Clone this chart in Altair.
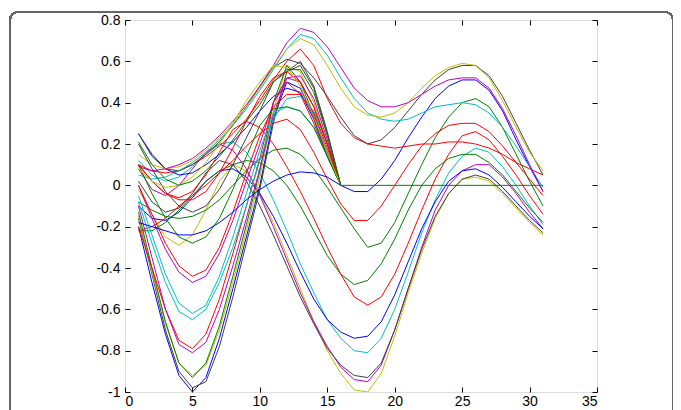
import altair as alt
import pandas as pd

X = list(range(1, 32))

# MATLAB classic colour cycle
B, G, R, C, M, Y, K = "#0000ff", "#008000", "#ff0000", "#00bfbf", "#bf00bf", "#bfbf00", "#404040"

# full-length curves (x = 1..31)
F1 = [-0.02, -0.14, -0.25, -0.29, -0.24, -0.12, 0.02, 0.10, 0.07, -0.04, -0.18, -0.34, -0.50, -0.66, -0.80, -0.91, -0.99, -1.00, -0.91, -0.73, -0.52, -0.33, -0.16, -0.04, 0.03, 0.04, 0.02, -0.04, -0.11, -0.18, -0.24]
F2 = [0.08, -0.02, -0.05, 0.00, 0.08, 0.16, 0.20, 0.17, 0.08, -0.05, -0.20, -0.36, -0.52, -0.66, -0.78, -0.88, -0.94, -0.95, -0.87, -0.70, -0.50, -0.30, -0.12, 0.00, 0.07, 0.10, 0.10, 0.04, -0.04, -0.13, -0.21]
F3 = [0.02, -0.08, -0.13, -0.11, -0.04, 0.06, 0.12, 0.10, 0.02, -0.10, -0.24, -0.39, -0.54, -0.67, -0.79, -0.87, -0.92, -0.93, -0.86, -0.70, -0.50, -0.31, -0.15, -0.04, 0.03, 0.05, 0.03, -0.03, -0.10, -0.17, -0.23]
F4 = [0.12, 0.05, 0.02, 0.04, 0.09, 0.15, 0.20, 0.21, 0.16, 0.06, -0.07, -0.22, -0.38, -0.52, -0.65, -0.74, -0.80, -0.81, -0.74, -0.60, -0.42, -0.23, -0.07, 0.06, 0.14, 0.18, 0.16, 0.09, 0.00, -0.10, -0.19]
F5 = [-0.10, -0.16, -0.17, -0.13, -0.06, 0.02, 0.07, 0.08, 0.04, -0.04, -0.15, -0.28, -0.42, -0.55, -0.65, -0.71, -0.74, -0.73, -0.66, -0.53, -0.37, -0.21, -0.08, 0.02, 0.07, 0.08, 0.05, -0.01, -0.08, -0.15, -0.21]
F6 = [0.10, 0.02, -0.04, -0.06, -0.03, 0.05, 0.16, 0.27, 0.31, 0.28, 0.20, 0.09, -0.03, -0.16, -0.30, -0.43, -0.54, -0.58, -0.54, -0.43, -0.28, -0.12, 0.03, 0.15, 0.24, 0.26, 0.22, 0.14, 0.05, -0.05, -0.14]
F7 = [-0.22, -0.22, -0.18, -0.12, -0.05, 0.02, 0.07, 0.10, 0.12, 0.11, 0.07, 0.00, -0.10, -0.22, -0.34, -0.43, -0.48, -0.46, -0.38, -0.26, -0.12, 0.00, 0.08, 0.13, 0.15, 0.15, 0.11, 0.05, -0.03, -0.11, -0.18]
F8 = [-0.08, -0.12, -0.15, -0.16, -0.15, -0.12, -0.07, 0.00, 0.07, 0.13, 0.17, 0.18, 0.15, 0.08, -0.01, -0.11, -0.21, -0.30, -0.28, -0.18, -0.04, 0.10, 0.23, 0.33, 0.40, 0.42, 0.38, 0.28, 0.15, 0.02, -0.10]
F9 = [-0.22, -0.20, -0.16, -0.10, -0.05, 0.00, 0.06, 0.12, 0.19, 0.25, 0.30, 0.32, 0.27, 0.16, 0.03, -0.09, -0.17, -0.17, -0.10, 0.00, 0.10, 0.19, 0.25, 0.29, 0.30, 0.30, 0.26, 0.19, 0.11, 0.03, -0.05]
F10 = [0.25, 0.15, 0.08, 0.05, 0.06, 0.10, 0.15, 0.21, 0.28, 0.36, 0.43, 0.47, 0.45, 0.32, 0.14, 0.00, -0.03, -0.03, 0.03, 0.12, 0.23, 0.33, 0.42, 0.48, 0.51, 0.51, 0.46, 0.36, 0.22, 0.09, -0.03]
F11 = [0.10, 0.07, 0.06, 0.07, 0.10, 0.14, 0.19, 0.25, 0.32, 0.41, 0.51, 0.60, 0.66, 0.58, 0.42, 0.30, 0.23, 0.20, 0.19, 0.18, 0.19, 0.20, 0.20, 0.21, 0.21, 0.20, 0.18, 0.15, 0.11, 0.08, 0.05]
F12 = [0.25, 0.14, 0.08, 0.07, 0.10, 0.15, 0.21, 0.29, 0.38, 0.48, 0.57, 0.61, 0.59, 0.52, 0.43, 0.33, 0.24, 0.20, 0.22, 0.28, 0.36, 0.44, 0.51, 0.56, 0.58, 0.58, 0.53, 0.43, 0.30, 0.17, 0.05]
F13 = [0.05, 0.03, 0.04, 0.07, 0.11, 0.16, 0.22, 0.29, 0.37, 0.46, 0.56, 0.66, 0.73, 0.71, 0.63, 0.52, 0.42, 0.35, 0.32, 0.31, 0.32, 0.35, 0.38, 0.39, 0.40, 0.39, 0.35, 0.28, 0.19, 0.09, -0.01]
F14 = [0.15, 0.10, 0.08, 0.09, 0.12, 0.17, 0.23, 0.30, 0.38, 0.47, 0.57, 0.66, 0.71, 0.68, 0.58, 0.47, 0.38, 0.34, 0.33, 0.35, 0.40, 0.47, 0.53, 0.57, 0.59, 0.58, 0.52, 0.41, 0.28, 0.16, 0.07]
F15 = [0.09, 0.07, 0.08, 0.10, 0.13, 0.18, 0.24, 0.31, 0.39, 0.48, 0.58, 0.69, 0.76, 0.74, 0.67, 0.57, 0.47, 0.41, 0.38, 0.38, 0.40, 0.44, 0.48, 0.51, 0.52, 0.52, 0.47, 0.37, 0.24, 0.10, -0.03]

# curves that are non-zero on x = 1..15 only (x = 16..31 are zero)
ZERO_TAIL = [0.0, 0.0, 0.0, 0.0, 0.0, 0.0, 0.0, 0.0, 0.0, 0.0, 0.0, 0.0, 0.0, 0.0, 0.0]
L1 = [-0.20, -0.47, -0.72, -0.92, -1.00, -0.93, -0.74, -0.50, -0.25, 0.00, 0.32, 0.50, 0.47, 0.33, 0.16, 0.0]
L2 = [-0.16, -0.43, -0.70, -0.90, -0.98, -0.95, -0.78, -0.54, -0.28, -0.02, 0.30, 0.55, 0.60, 0.48, 0.26, 0.0]
L3 = [-0.15, -0.42, -0.67, -0.86, -0.92, -0.87, -0.70, -0.47, -0.22, 0.04, 0.36, 0.58, 0.55, 0.40, 0.20, 0.0]
L4 = [-0.13, -0.40, -0.66, -0.86, -0.93, -0.86, -0.68, -0.44, -0.19, 0.07, 0.40, 0.58, 0.50, 0.34, 0.16, 0.0]
L5 = [-0.20, -0.40, -0.60, -0.75, -0.79, -0.72, -0.55, -0.33, -0.10, 0.13, 0.40, 0.50, 0.44, 0.30, 0.14, 0.0]
L6 = [-0.10, -0.35, -0.60, -0.77, -0.81, -0.76, -0.60, -0.39, -0.16, 0.08, 0.34, 0.52, 0.53, 0.42, 0.22, 0.0]
L7 = [-0.08, -0.28, -0.47, -0.61, -0.65, -0.60, -0.47, -0.30, -0.10, 0.12, 0.32, 0.42, 0.43, 0.36, 0.20, 0.0]
L8 = [-0.05, -0.24, -0.43, -0.57, -0.62, -0.58, -0.44, -0.25, -0.04, 0.17, 0.35, 0.38, 0.36, 0.28, 0.14, 0.0]
L9 = [0.00, -0.16, -0.31, -0.42, -0.47, -0.44, -0.33, -0.17, 0.02, 0.20, 0.40, 0.52, 0.50, 0.38, 0.20, 0.0]
L10 = [0.00, -0.14, -0.28, -0.39, -0.44, -0.41, -0.30, -0.13, 0.06, 0.24, 0.38, 0.44, 0.44, 0.35, 0.18, 0.0]
L11 = [0.10, -0.04, -0.16, -0.25, -0.28, -0.25, -0.16, -0.02, 0.14, 0.29, 0.37, 0.38, 0.36, 0.28, 0.14, 0.0]
L12 = [-0.18, -0.20, -0.22, -0.24, -0.24, -0.22, -0.18, -0.13, -0.07, -0.02, 0.02, 0.05, 0.065, 0.06, 0.04, 0.0]
L13 = [0.20, 0.08, -0.03, -0.10, -0.13, -0.10, -0.02, 0.10, 0.23, 0.36, 0.50, 0.55, 0.58, 0.47, 0.25, 0.0]
L14 = [0.10, 0.02, -0.04, -0.07, -0.07, -0.03, 0.06, 0.18, 0.31, 0.43, 0.52, 0.55, 0.50, 0.38, 0.20, 0.0]
L15 = [0.08, 0.02, -0.01, 0.00, 0.04, 0.11, 0.20, 0.30, 0.41, 0.50, 0.58, 0.57, 0.48, 0.33, 0.16, 0.0]
L16 = [0.21, 0.10, 0.03, 0.00, 0.02, 0.07, 0.14, 0.22, 0.31, 0.39, 0.50, 0.56, 0.56, 0.45, 0.24, 0.0]

FULL = [(F1, Y), (F2, M), (F3, K), (F4, C), (F5, B), (F6, R), (F7, G), (F8, G),
        (F9, R), (F10, B), (F11, R), (F12, K), (F13, C), (F14, Y), (F15, M)]
LEFT = [(L1, B), (L2, K), (L3, Y), (L4, G), (L5, R), (L6, M), (L7, C), (L8, C),
        (L9, M), (L10, R), (L11, G), (L12, B), (L13, K), (L14, R), (L15, Y), (L16, G)]

X_TICKS = [0, 5, 10, 15, 20, 25, 30, 35]
Y_TICKS = [-1, -0.8, -0.6, -0.4, -0.2, 0, 0.2, 0.4, 0.6, 0.8]

rows, ids, cols = [], [], []
n = 0
for vals, col in FULL:
    n += 1
    sid = f"s{n:02d}"
    ids.append(sid); cols.append(col)
    for xv, yv in zip(X, vals):
        rows.append({"id": sid, "part": "full", "x": xv, "y": yv})
for vals, col in LEFT:
    n += 1
    sid = f"s{n:02d}"
    ids.append(sid); cols.append(col)
    for xv, yv in zip(X, vals + ZERO_TAIL):
        rows.append({"id": sid, "part": "left", "x": xv, "y": yv})
df = pd.DataFrame(rows)
LAST = ids[-1]  # last plotted curve: its zero tail is the one left visible on top

FONT = "Liberation Sans"
xs = alt.Scale(domain=[0, 35], nice=False, zero=False)
ys = alt.Scale(domain=[-1, 0.8], nice=False, zero=False)
LBL = "datum.value == 0 ? '0' : '' + round(datum.value * 10) / 10"
cscale = alt.Scale(domain=ids, range=cols)

# the overlapping zero tails of earlier left-only curves are hidden under the last one
visible = (alt.datum.part == "full") | (alt.datum.x <= 16) | (alt.datum.id == LAST)

lines = alt.Chart(df).mark_line(strokeWidth=1, clip=True).encode(
    x=alt.X("x:Q", scale=xs, axis=alt.Axis(orient="bottom", values=X_TICKS, title=None, offset=-5,
                                          tickSize=5, labelPadding=2, domain=False, grid=False,
                                          labelFont=FONT, labelFontSize=14, labelColor="black",
                                          tickColor="black")),
    y=alt.Y("y:Q", scale=ys, axis=alt.Axis(orient="left", values=Y_TICKS, title=None, offset=-5,
                                          tickSize=5, labelPadding=5, domain=False, grid=False,
                                          labelExpr=LBL, labelFont=FONT, labelFontSize=14,
                                          labelColor="black", tickColor="black")),
    color=alt.Color("id:N", scale=cscale, legend=None),
    order=alt.Order("x:Q"),
).transform_filter(visible)

mirror = alt.Chart(df).mark_line(opacity=0).encode(
    x=alt.X("x:Q", scale=xs, axis=alt.Axis(orient="top", values=X_TICKS, title=None, offset=-5,
                                          tickSize=5, labels=False, domain=False, grid=False,
                                          tickColor="black")),
    y=alt.Y("y:Q", scale=ys, axis=alt.Axis(orient="right", values=Y_TICKS, title=None, offset=-5,
                                          tickSize=5, labels=False, domain=False, grid=False,
                                          tickColor="black")),
    detail="id:N",
)

frame = alt.Chart(df).mark_rect(filled=False, stroke="#666666", strokeWidth=1.5, cornerRadius=8).encode(
    x=alt.value(-115), x2=alt.value(548), y=alt.value(-8), y2=alt.value(440)
)

chart = alt.layer(frame, lines, mirror).resolve_axis(x="independent", y="independent").properties(
    width=472, height=372,
    autosize=alt.AutoSizeParams(type="none"),
    padding={"left": 117, "top": 12, "right": 76, "bottom": 20},
).configure_view(stroke="black", strokeWidth=1).configure(background="white")

chart.save("out.html", embed_options={"renderer": "svg", "actions": False})
